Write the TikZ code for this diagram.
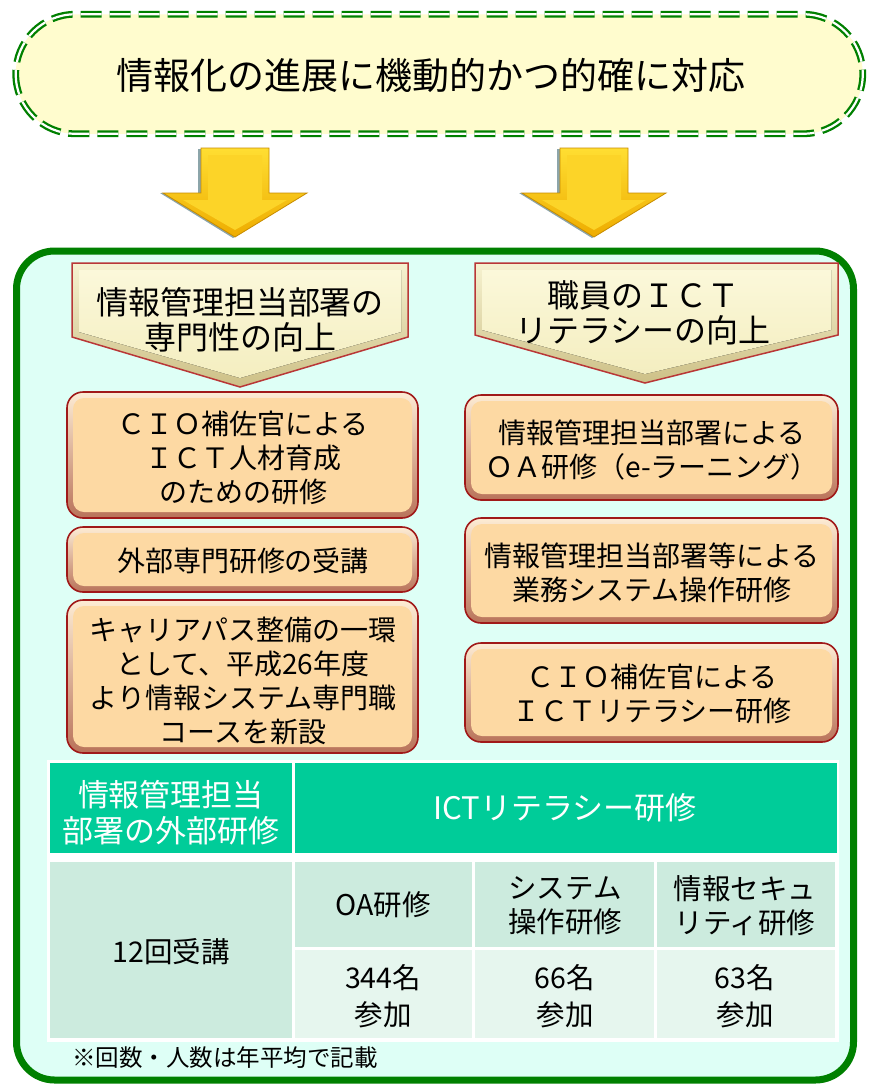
\documentclass[tikz,border=0pt]{standalone}
\usepackage{fontspec}
\setmainfont{Noto Sans CJK JP}
\definecolor{bannerfill}{RGB}{255,252,206}
\definecolor{dgreen}{RGB}{0,128,0}
\definecolor{panelfill}{RGB}{222,255,246}
\definecolor{hdrline}{RGB}{185,55,55}
\definecolor{hdrlight}{RGB}{246,242,208}
\definecolor{hdrdark}{RGB}{205,192,135}
\definecolor{hdrface}{RGB}{251,248,218}
\definecolor{hdrface2}{RGB}{244,238,192}
\definecolor{boxface}{RGB}{253,217,163}
\definecolor{boxline}{RGB}{160,25,25}
\definecolor{boxlight}{RGB}{253,236,212}
\definecolor{boxdark}{RGB}{185,115,90}
\definecolor{tealhdr}{RGB}{0,204,153}
\definecolor{cellA}{RGB}{204,235,222}
\definecolor{cellB}{RGB}{230,246,238}
\definecolor{goldtop}{RGB}{255,222,50}
\definecolor{goldbot}{RGB}{238,172,0}
\definecolor{goldline}{RGB}{200,140,0}
\definecolor{arrshadow}{RGB}{140,165,170}
\tikzset{
  boxtext/.style={font=\fontsize{28}{34}\selectfont, align=center, inner sep=0pt, text=black},
  hdrtext/.style={font=\fontsize{32}{35}\selectfont, align=center, inner sep=0pt, text=black},
  tabwhite/.style={font=\fontsize{31}{36}\selectfont, align=center, inner sep=0pt, text=white},
  tabtext/.style={font=\fontsize{28.5}{34}\selectfont, align=center, inner sep=0pt, text=black},
  valtext/.style={font=\fontsize{28.5}{37}\selectfont, align=center, inner sep=0pt, text=black},
}
\newcommand{\orbox}[4]{%
  \draw[boxline, line width=1.6pt, rounded corners=16pt, top color=boxlight, bottom color=boxdark] (#1,#2) rectangle (#3,#4);
  \fill[boxface, rounded corners=11pt] ({#1+6},{#2+6}) rectangle ({#3-6},{#4-6});
}
\newcommand{\goldarrow}[2]{% center x, top y
  \fill[arrshadow] ({#1-37},{#2+1}) -- ({#1+31},{#2+1}) -- ({#1+31},{#2+45}) -- ({#1+70},{#2+45}) -- ({#1-2},{#2+90}) -- ({#1-75},{#2+45}) -- ({#1-37},{#2+45}) -- cycle;
  \draw[goldline, line width=0.8pt, top color=goldtop, bottom color=goldbot] ({#1-34},{#2}) -- ({#1+34},{#2}) -- ({#1+34},{#2+45}) -- ({#1+72},{#2+45}) -- ({#1},{#2+89}) -- ({#1-72},{#2+45}) -- ({#1-34},{#2+45}) -- cycle;
  \fill[goldtop!80!goldbot] ({#1-27},{#2+7}) -- ({#1+27},{#2+7}) -- ({#1+27},{#2+52}) -- ({#1+52},{#2+52}) -- ({#1},{#2+82}) -- ({#1-52},{#2+52}) -- ({#1-27},{#2+52}) -- cycle;
}
\begin{document}
\begin{tikzpicture}[x=1pt,y=-1pt]
\fill[white] (0,0) rectangle (877,1088);
\useasboundingbox (0,0) rectangle (877,1088);

% banner
\fill[bannerfill, rounded corners=59.5pt] (15.75,14.25) rectangle (862.75,133.75);
\draw[dgreen, line width=2.3pt, double=white, double distance=2.2pt, dash pattern=on 21pt off 8pt, rounded corners=59.5pt] (15.75,14.25) rectangle (862.75,133.75);
\node[font=\fontsize{37}{40}\selectfont, inner sep=0pt] (title) at (431,75) {情報化の進展に機動的かつ的確に対応};

% panel
\draw[dgreen, line width=7pt, fill=panelfill, rounded corners=38pt] (16.5,251) rectangle (853.5,1080);

% arrows
\goldarrow{235}{148}
\goldarrow{594}{148}

% header pentagons
\draw[hdrline, line width=1.5pt, top color=hdrlight, bottom color=hdrdark] (72,263) -- (408,263) -- (408,337) -- (240,387) -- (72,337) -- cycle;
\fill[top color=hdrface, bottom color=hdrface2] (79,270) -- (401,270) -- (401,332) -- (240,378) -- (79,332) -- cycle;
\node[hdrtext] (hL) at (240,320) {情報管理担当部署の\\専門性の向上};

\draw[hdrline, line width=1.5pt, top color=hdrlight, bottom color=hdrdark] (475,263) -- (838,263) -- (838,335) -- (645,383) -- (475,335) -- cycle;
\fill[top color=hdrface, bottom color=hdrface2] (482,270) -- (831,270) -- (831,330) -- (645,374) -- (482,330) -- cycle;
\node[hdrtext] (hR) at (643,313) {職員のＩＣＴ\\リテラシーの向上};

% left boxes
\orbox{67}{392}{418}{518}
\node[boxtext] (L1) at (243,458) {ＣＩＯ補佐官による\\ＩＣＴ人材育成\\のための研修};
\orbox{67}{527}{418}{592}
\node[boxtext] (L2) at (243,561) {外部専門研修の受講};
\orbox{67}{600}{418}{753}
\node[boxtext] (L3) at (243,681) {キャリアパス整備の一環\\として、平成26年度\\より情報システム専門職\\コースを新設};

% right boxes
\orbox{465}{395}{838}{500}
\node[boxtext] (R1) at (652,450) {情報管理担当部署による\\ＯＡ研修（e-ラーニング）};
\orbox{465}{518}{838}{623}
\node[boxtext] (R2) at (652,573) {情報管理担当部署等による\\業務システム操作研修};
\orbox{465}{643}{838}{742}
\node[boxtext] (R3) at (652,694) {ＣＩＯ補佐官による\\ＩＣＴリテラシー研修};

% table
\fill[white] (47,760) rectangle (839,1042);
\fill[tealhdr] (50,763) rectangle (292,853);
\fill[tealhdr] (295,763) rectangle (837,853);
\fill[cellA] (50,862) rectangle (292,1038);
\fill[cellA] (295,862) rectangle (472,947);
\fill[cellA] (475,862) rectangle (654,947);
\fill[cellA] (657,862) rectangle (835,947);
\fill[cellB] (295,950) rectangle (472,1038);
\fill[cellB] (475,950) rectangle (654,1038);
\fill[cellB] (657,950) rectangle (835,1038);

\node[tabwhite] (t1) at (171,813) {情報管理担当\\部署の外部研修};
\node[tabwhite] (t2) at (565,808) {ICTリテラシー研修};
\node[tabtext] (t3) at (171,952) {12回受講};
\node[tabtext] (t4) at (383,905) {OA研修};
\node[tabtext] (t5) at (565,906) {システム\\操作研修};
\node[tabtext] (t6) at (745,906) {情報セキュ\\リティ研修};
\node[valtext] (v1) at (383,996) {344名\\参加};
\node[valtext] (v2) at (565,996) {66名\\参加};
\node[valtext] (v3) at (745,996) {63名\\参加};

\node[font=\fontsize{23.5}{26}\selectfont, anchor=west, inner sep=0pt] (note) at (72,1058) {※回数・人数は年平均で記載};
\end{tikzpicture}
\end{document}
